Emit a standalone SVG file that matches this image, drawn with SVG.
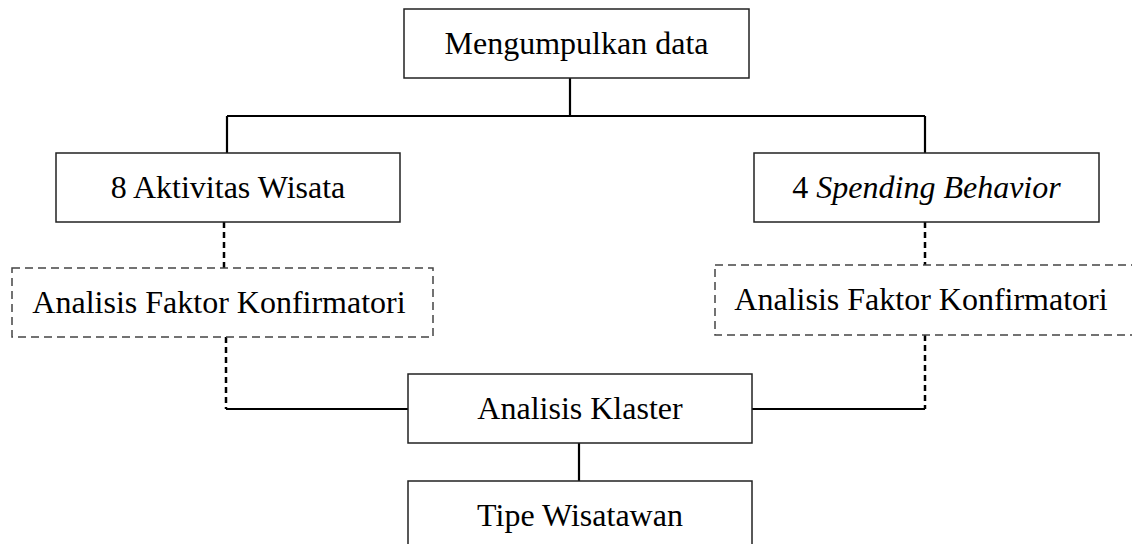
<svg xmlns="http://www.w3.org/2000/svg" width="1132" height="544" viewBox="0 0 1132 544">
<style>
.box{fill:#fff;stroke:#222;stroke-width:1.5}
.dbox{fill:#fff;stroke:#444;stroke-width:1.5;stroke-dasharray:8 5}
.t{font-family:"Liberation Serif","Times New Roman",serif;font-size:32px;fill:#000;text-anchor:middle}
.c{fill:none;stroke:#000;stroke-width:2.2}
.cd{fill:none;stroke:#000;stroke-width:2.5;stroke-dasharray:6 4}
</style>
<rect width="1132" height="544" fill="#fff"/>
<g id="connectors">
<path class="c" d="M570 78V116M227 116H925M227 116V153M925 116V153"/>
<path class="cd" d="M224 222V268M925 222V265"/>
<path class="cd" d="M226 337V409M925 335V409"/>
<path class="c" d="M226 409H408M752 409H925M579 443V481"/>
</g>
<g id="n-mengumpulkan">
<rect class="box" x="404" y="9" width="345" height="69"/>
<text class="t" x="576.5" y="54">Mengumpulkan data</text>
</g>
<g id="n-aktivitas">
<rect class="box" x="56" y="153" width="344" height="69"/>
<text class="t" x="228" y="198">8 Aktivitas Wisata</text>
</g>
<g id="n-spending">
<rect class="box" x="754" y="153" width="345" height="69"/>
<text class="t" x="926.5" y="198">4 <tspan font-style="italic">Spending Behavior</tspan></text>
</g>
<g id="n-cfa-left">
<rect class="dbox" x="12" y="268" width="421" height="69"/>
<text class="t" x="219" y="313">Analisis Faktor Konfirmatori</text>
</g>
<g id="n-cfa-right">
<rect class="dbox" x="715" y="265" width="430" height="70"/>
<text class="t" x="921" y="310">Analisis Faktor Konfirmatori</text>
</g>
<g id="n-klaster">
<rect class="box" x="408" y="374" width="344" height="69"/>
<text class="t" x="580" y="419">Analisis Klaster</text>
</g>
<g id="n-tipe">
<rect class="box" x="408" y="481" width="344" height="75"/>
<text class="t" x="580" y="526">Tipe Wisatawan</text>
</g>
</svg>
